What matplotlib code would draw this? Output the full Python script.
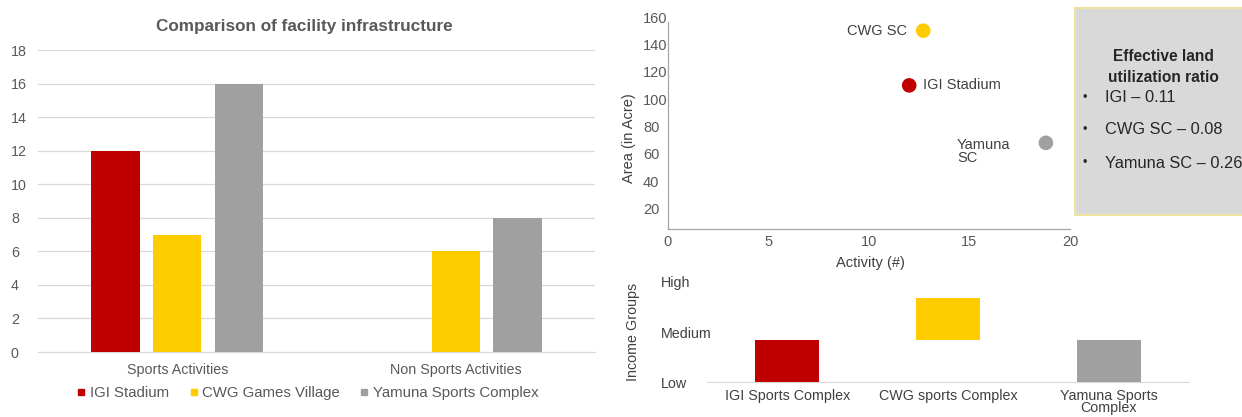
import numpy as np
import matplotlib
matplotlib.use("Agg")
from matplotlib import pyplot as plt
from matplotlib.lines import Line2D
from matplotlib.patches import Rectangle

plt.rcParams['font.family'] = ['Liberation Sans', 'DejaVu Sans']

# --- data ---
categories = ['Sports Activities', 'Non Sports Activities']
series_names = ['IGI Stadium', 'CWG Games Village', 'Yamuna Sports Complex']
igi_counts = [12, 0]
cwg_counts = [7, 6]
yamuna_counts = [16, 8]

site_names = ['IGI Stadium', 'CWG SC', 'Yamuna\nSC']
activity = [12, 12.7, 18.8]
area = [110, 150, 68]

ratio_lines = ['IGI \u2013 0.11', 'CWG SC \u2013 0.08', 'Yamuna SC \u2013 0.26']

complexes = ['IGI Sports Complex', 'CWG sports Complex', 'Yamuna Sports\nComplex']
income_levels = ['Low', 'Medium', 'High']
income_from = [0, 0.85, 0]
income_to = [0.85, 1.68, 0.85]

RED = '#C00000'
YELLOW = '#FFCC00'
GRAY = '#A0A0A0'
colors = [RED, YELLOW, GRAY]
TXT = '#595959'

W, H = 1242, 417
fig = plt.figure(figsize=(W / 100, H / 100), dpi=100)


def px_axes(l, t, r, b):
    return fig.add_axes([l / W, 1 - b / H, (r - l) / W, (b - t) / H])


# ---------------- bar chart ----------------
ax1 = px_axes(38, 50, 595, 352)
x = np.arange(len(categories))
step = 0.2216
for i, vals in enumerate([igi_counts, cwg_counts, yamuna_counts]):
    ax1.bar(x + (i - 1) * step, vals, width=0.174, color=colors[i], zorder=3)
ax1.set_xlim(-0.5, 1.5)
ax1.set_ylim(0, 18)
ax1.set_yticks(range(0, 19, 2))
ax1.set_xticks(x)
ax1.set_xticklabels(categories)
ax1.grid(axis='y', color='#D9D9D9', lw=0.9)
for s in ['top', 'right', 'left']:
    ax1.spines[s].set_visible(False)
ax1.spines['bottom'].set_color('#D9D9D9')
ax1.tick_params(axis='both', length=0, labelsize=10.3, labelcolor=TXT)
ax1.tick_params(axis='x', pad=8)
ax1.tick_params(axis='y', pad=19.5)
for lab in ax1.get_yticklabels():
    lab.set_ha('left')

fig.text(304 / W, 1 - 27 / H, 'Comparison of facility infrastructure',
         ha='center', va='center', fontsize=12.3, fontweight='bold', color=TXT)

handles = [Line2D([], [], marker='s', ls='none', color=c, markersize=4) for c in colors]
fig.legend(handles, series_names, loc='center', bbox_to_anchor=(308 / W, 1 - 393 / H),
           ncol=3, frameon=False, fontsize=10.8, handlelength=0.5, handletextpad=0.3,
           columnspacing=1.4, labelcolor=TXT)

# ---------------- scatter ----------------
ax2 = px_axes(668, 17, 1070, 229)
ax2.scatter(activity, area, s=90, c=colors, zorder=3)
offsets = [(10, 0), (-12, 0), (-64, -6)]
aligns = ['left', 'right', 'left']
for xi, yi, name, off, ha in zip(activity, area, site_names, offsets, aligns):
    ax2.annotate(name, (xi, yi), xytext=off, textcoords='offset points',
                 ha=ha, va='center', fontsize=10.5, color='#404040', linespacing=0.9)
ax2.set_xlim(0, 20)
ax2.set_ylim(5, 160)
ax2.set_xticks([0, 5, 10, 15, 20])
ax2.set_yticks(range(20, 161, 20))
for s in ['top', 'right']:
    ax2.spines[s].set_visible(False)
for s in ['left', 'bottom']:
    ax2.spines[s].set_color('#A6A6A6')
    ax2.spines[s].set_linewidth(0.9)
ax2.spines['left'].set_bounds(5, 156)
ax2.tick_params(axis='both', length=0, labelsize=10.5, labelcolor=TXT)
ax2.tick_params(axis='x', pad=4)
ax2.tick_params(axis='y', pad=18)
for lab in ax2.get_yticklabels():
    lab.set_ha('left')

fig.text(629 / W, 1 - 138 / H, 'Area (in Acre)', rotation=90, ha='center', va='center',
         fontsize=10.5, color='#404040')
fig.text(870 / W, 1 - 263 / H, 'Activity (#)', ha='center', va='center',
         fontsize=10.5, color='#404040')

# info box
fig.add_artist(Rectangle((1075 / W, 1 - 215 / H), 200 / W, 207 / H,
                         transform=fig.transFigure, facecolor='#D9D9D9',
                         edgecolor='#EFE3A0', lw=1.5))
fig.text(1163 / W, 1 - 67 / H, 'Effective land\nutilization ratio', ha='center', va='center',
         fontsize=11.2, fontweight='bold', color='#262626', linespacing=1.45)
for j, line in enumerate(ratio_lines):
    yy = 1 - [98, 130, 163][j] / H
    fig.text(1085 / W, yy, '\u2022', ha='center', va='center', fontsize=9, color='#262626')
    fig.text(1105 / W, yy, line, ha='left', va='center', fontsize=11.8, color='#262626')

# ---------------- income groups ----------------
ax3 = px_axes(707, 272, 1189, 382)
xc = np.arange(len(complexes))
ax3.bar(xc, np.array(income_to) - np.array(income_from), bottom=income_from,
        width=0.4, color=colors, zorder=3)
ax3.set_xlim(-0.5, 2.5)
ax3.set_ylim(0, 2.2)
ax3.set_xticks(xc)
ax3.set_xticklabels(complexes, linespacing=0.85)
ax3.set_yticks(range(len(income_levels)))
ax3.set_yticklabels(income_levels)
for s in ['top', 'right', 'left']:
    ax3.spines[s].set_visible(False)
ax3.spines['bottom'].set_color('#D9D9D9')
ax3.tick_params(axis='both', length=0, labelsize=10.3, labelcolor='#404040')
ax3.tick_params(axis='x', pad=5)
ax3.tick_params(axis='y', pad=33)
for lab in ax3.get_yticklabels():
    lab.set_ha('left')

fig.text(633 / W, 1 - 332 / H, 'Income Groups', rotation=90, ha='center', va='center',
         fontsize=10.3, color='#404040')

fig.savefig('out.png', dpi=100)
